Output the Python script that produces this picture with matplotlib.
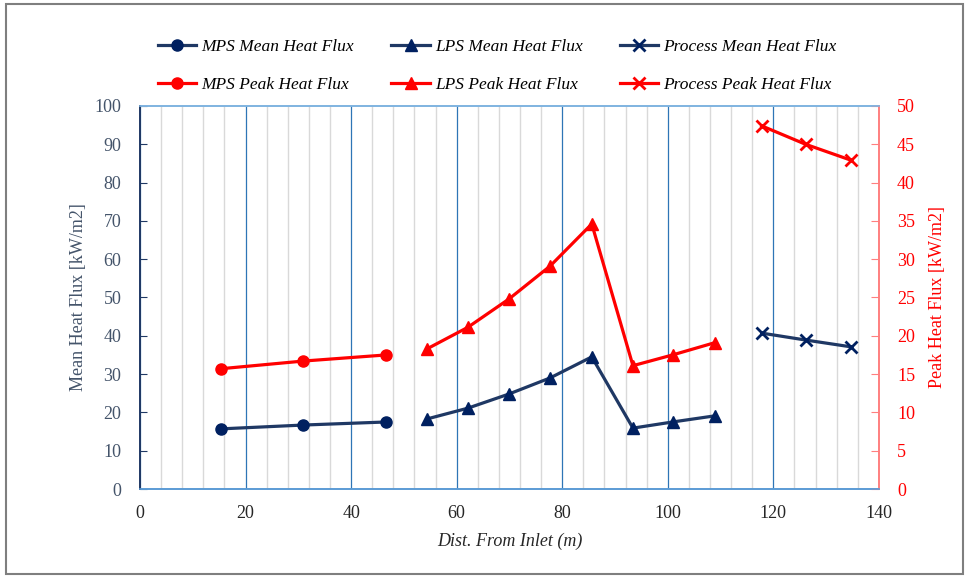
import matplotlib
matplotlib.use("Agg")
import matplotlib.pyplot as plt
from matplotlib.patches import Rectangle
from matplotlib.ticker import MultipleLocator

# ---- data ----
mps_x = [15.3, 30.9, 46.6]
mps_mean = [15.7, 16.7, 17.5]
mps_peak = [15.7, 16.7, 17.5]

lps_x = [54.4, 62.1, 69.9, 77.7, 85.6, 93.4, 100.9, 108.9]
lps_mean = [18.3, 21.1, 24.8, 29.0, 34.5, 15.9, 17.5, 19.1]
lps_peak = [18.3, 21.1, 24.8, 29.1, 34.6, 16.1, 17.5, 19.1]

proc_x = [117.8, 126.1, 134.8]
proc_mean = [40.7, 38.9, 37.1]
proc_peak = [47.4, 45.0, 42.9]

labels_mean = ["MPS Mean Heat Flux", "LPS Mean Heat Flux", "Process Mean Heat Flux"]
labels_peak = ["MPS Peak Heat Flux", "LPS Peak Heat Flux", "Process Peak Heat Flux"]
xlabel = "Dist. From Inlet (m)"
ylabel_left = "Mean Heat Flux [kW/m2]"
ylabel_right = "Peak Heat Flux [kW/m2]"

# ---- style ----
FONT = "Liberation Serif"
plt.rcParams["font.family"] = [FONT, "DejaVu Serif"]
NAVY = "#1F3864"
NAVY_M = "#002060"
RED = "#FF0000"
SLATE = "#44546A"

fig = plt.figure(figsize=(9.69, 5.79), dpi=100)
fig.patches.append(Rectangle((0.006, 0.008), 0.988, 0.985, transform=fig.transFigure,
                             fill=False, edgecolor="#7F7F7F", linewidth=1.5))
ax = fig.add_axes([0.1445, 0.1554, 0.7625, 0.6616])
ax2 = ax.twinx()

ax.set_xlim(0, 140)
ax.set_ylim(0, 100)
ax2.set_ylim(0, 50)
ax.xaxis.set_major_locator(MultipleLocator(20))
ax.xaxis.set_minor_locator(MultipleLocator(4))
ax.yaxis.set_major_locator(MultipleLocator(10))
ax2.yaxis.set_major_locator(MultipleLocator(5))

ax.grid(which="minor", axis="x", color="#D9D9D9", linewidth=1.0)
ax.grid(which="major", axis="x", color="#2E75B6", linewidth=0.9)
ax.set_axisbelow(True)

lw = 2.3
ms = 8
h = []
h.append(ax.plot(mps_x, mps_mean, color=NAVY, lw=lw, marker="o", ms=ms, mfc=NAVY_M, mec=NAVY_M, label=labels_mean[0])[0])
h.append(ax2.plot(mps_x, mps_peak, color=RED, lw=lw, marker="o", ms=ms, mfc=RED, mec=RED, label=labels_peak[0])[0])
h.append(ax.plot(lps_x, lps_mean, color=NAVY, lw=lw, marker="^", ms=ms, mfc=NAVY_M, mec=NAVY_M, label=labels_mean[1])[0])
h.append(ax2.plot(lps_x, lps_peak, color=RED, lw=lw, marker="^", ms=ms, mfc=RED, mec=RED, label=labels_peak[1])[0])
h.append(ax.plot(proc_x, proc_mean, color=NAVY, lw=lw, marker="x", ms=ms, mew=2, mec=NAVY_M, label=labels_mean[2])[0])
h.append(ax2.plot(proc_x, proc_peak, color=RED, lw=lw, marker="x", ms=ms, mew=2, mec=RED, label=labels_peak[2])[0])

# spines
for a in (ax, ax2):
    a.spines["top"].set_color("#7FB3E0")
    a.spines["bottom"].set_color("#5B9BD5")
    a.spines["left"].set_color(NAVY)
    a.spines["right"].set_color("#FF7F7F")
    for s in a.spines.values():
        s.set_linewidth(1.2)

ax.tick_params(axis="x", which="both", length=0, labelsize=13, pad=11.5, labelcolor="#262626")
ax.tick_params(axis="y", direction="in", length=5, color=NAVY, labelsize=13, labelcolor=SLATE, pad=13.5)
ax2.tick_params(axis="y", direction="in", length=6, color="#FF7F7F", labelsize=13, labelcolor=RED, pad=13)

ax.set_xlabel(xlabel, fontsize=13, style="italic", color="#262626", labelpad=8)
ax.set_ylabel(ylabel_left, fontsize=13, color=SLATE, labelpad=5)
ax2.set_ylabel(ylabel_right, fontsize=13, color=RED, labelpad=10)

leg = fig.legend(handles=h, loc="upper left", bbox_to_anchor=(0.147, 0.96), ncol=3,
                 frameon=False, prop={"family": FONT, "style": "italic", "size": 12.5},
                 handlelength=2.2, handletextpad=0.3, columnspacing=2.15, labelspacing=1.25)

fig.savefig("out.png", dpi=100)
